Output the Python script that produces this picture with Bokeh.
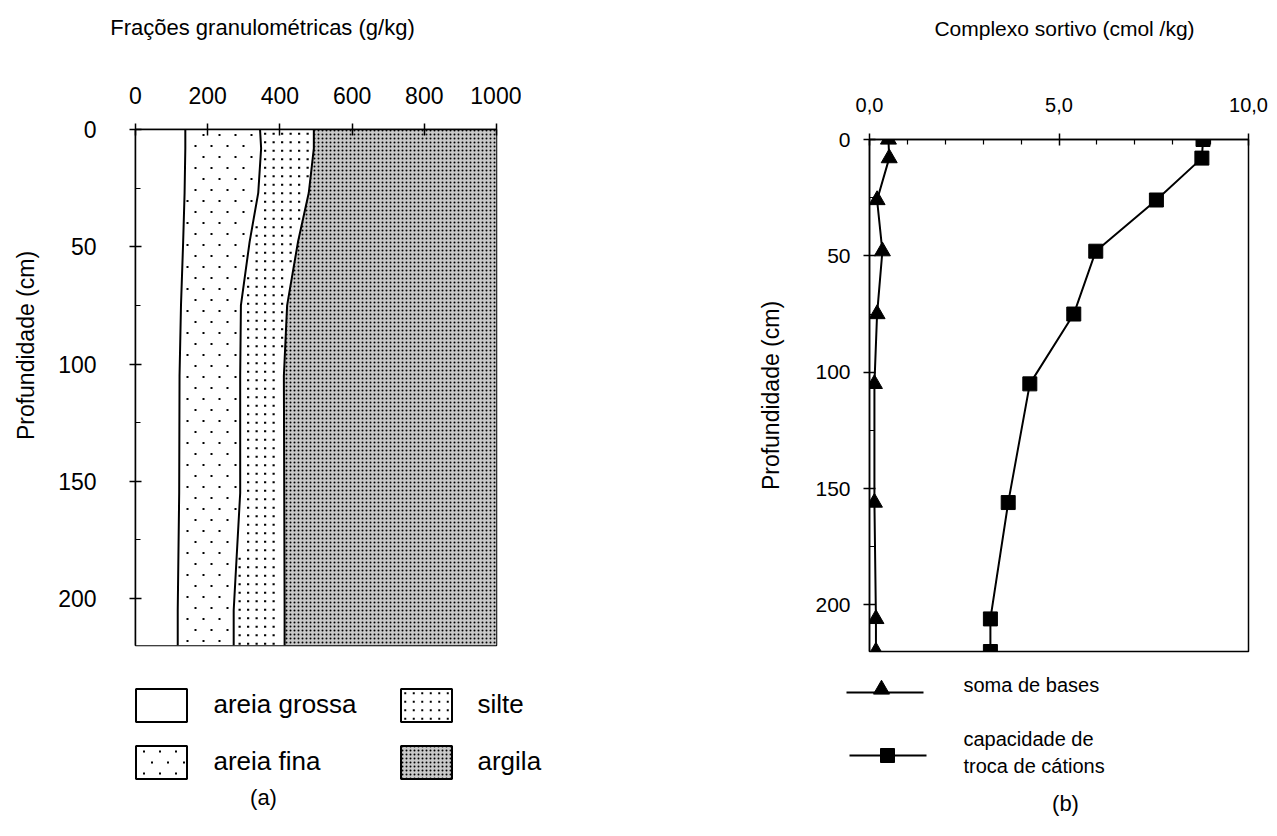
import math
import numpy as np
from bokeh.plotting import figure
from bokeh.models import Range1d, FixedTicker
from bokeh.embed import file_html
from bokeh.resources import INLINE
from bokeh.core.properties import value

FONT = "Liberation Sans"

# ---------------- data (a): particle-size fractions (g/kg) by depth (cm)
depth_a = [0, 8, 27, 48, 75, 105, 155, 205, 220]
areia_grossa = [138, 138, 136, 132, 126, 122, 121, 117, 117]
areia_fina = [207, 210, 204, 184, 166, 168, 169, 155, 155]
silte = [149, 146, 140, 134, 128, 121, 122, 141, 141]
argila = [506, 506, 520, 550, 580, 589, 588, 587, 587]
x_ticks_a = [0, 200, 400, 600, 800, 1000]

# ---------------- data (b): sorptive complex (cmolc/kg) by depth (cm)
depth_b = [0, 8, 26, 48, 75, 105, 156, 206, 220]
soma_bases = [0.5, 0.52, 0.2, 0.34, 0.2, 0.13, 0.13, 0.17, 0.17]
ctc = [8.8, 8.77, 7.57, 5.97, 5.39, 4.23, 3.66, 3.19, 3.19]
x_ticks_b = [0, 5, 10]
x_labels_b = ["0,0", "5,0", "10,0"]
y_ticks = [0, 50, 100, 150, 200]
y_minor = [25, 75, 125, 175]

# cumulative boundaries
b1 = list(areia_grossa)
b2 = [a + b for a, b in zip(b1, areia_fina)]
b3 = [a + b for a, b in zip(b2, silte)]
b4 = [a + b for a, b in zip(b3, argila)]

style_ar = dict(fill_color="#c8c8c8", hatch_pattern="dot", hatch_scale=4,
                hatch_weight=1.2, hatch_color="black")

# frame geometry of panel (a), in pixels
FW, FH = 361, 516
XMAX, YMAX = 1000, 220


def stipple(left, right, dx, dy, stagger):
    """Dot-texture positions (data units) filling the band between two boundaries."""
    xs, ys = [], []
    row = 0
    py = dy / 2
    while py < FH:
        d = py / FH * YMAX
        xl = np.interp(d, depth_a, left) / XMAX * FW
        xr = np.interp(d, depth_a, right) / XMAX * FW
        off = (dx / 2 if (stagger and row % 2) else 0) + dx / 4
        k0 = int(math.floor((xl - off) / dx))
        for k in range(k0, k0 + int(FW / dx) + 3):
            px = off + k * dx
            if xl + 3 < px < xr - 3:
                xs.append(px / FW * XMAX)
                ys.append(d)
        py += dy
        row += 1
    return xs, ys


def style_axes(p, tick_size):
    for ax in (p.xaxis[0], p.yaxis[0]):
        ax.axis_line_color = "black"
        ax.axis_line_width = 1.5
        ax.major_tick_line_color = "black"
        ax.major_tick_line_width = 1.5
        ax.minor_tick_line_color = "black"
        ax.minor_tick_line_width = 1.2
        ax.major_tick_in = 6
        ax.major_tick_out = 6
        ax.minor_tick_in = 5
        ax.minor_tick_out = 0
        ax.major_label_text_font = FONT
        ax.major_label_text_font_size = tick_size
        ax.major_label_text_color = "black"
        ax.axis_label_text_font = FONT
        ax.axis_label_text_font_size = "23px"
        ax.axis_label_text_font_style = "normal"
        ax.axis_label_text_color = "black"
    p.grid.visible = False
    p.outline_line_color = "black"
    p.outline_line_width = 1.5
    p.background_fill_color = "white"
    p.border_fill_alpha = 0


# ======================= background canvas (texts + legend keys)
bg = figure(width=1277, height=836, output_backend="svg", toolbar_location=None,
            x_range=Range1d(0, 1277), y_range=Range1d(836, 0),
            x_axis_type=None, y_axis_type=None, min_border=0,
            outline_line_color=None, background_fill_color="white",
            border_fill_color="white")
bg.styles = {"position": "absolute", "left": "0px", "top": "0px"}


def txt(x, y, s, size="22px", align="center", angle=0.0):
    bg.text(x=[x], y=[y], text=[s], text_font=value(FONT), text_font_size=size,
            text_color="black", text_align=align, text_baseline="middle",
            angle=angle)


def key_box(cx, cy, dx=None, dy=None, stagger=False, **st):
    w, h = 51, 33
    bg.rect(x=[cx], y=[cy], width=w, height=h, line_color="black", line_width=2,
            fill_color=st.pop("fill_color", "white"), **st)
    if dx:
        xs, ys = [], []
        row = 0
        py = cy - h / 2 + dy / 2
        while py < cy + h / 2 - 2:
            off = dx / 2 if (stagger and row % 2) else 0
            px = cx - w / 2 + dx / 2 + off
            while px < cx + w / 2 - 2:
                xs.append(px)
                ys.append(py)
                px += dx
            py += dy
            row += 1
        bg.scatter(x=xs, y=ys, marker="square", size=2, fill_color="black",
                   line_color=None)


txt(262, 27, "Frações granulométricas (g/kg)")
txt(1064, 28, "Complexo sortivo (cmol /kg)", size="21px")
txt(25, 345, "Profundidade (cm)", size="23px", angle=math.pi / 2)

# legend (a)
key_box(161, 705)
key_box(161, 762, dx=16, dy=11, stagger=True)
key_box(426, 705, dx=8.5, dy=8.5)
key_box(426, 762, **dict(style_ar))
txt(213, 703, "areia grossa", size="26px", align="left")
txt(213, 760, "areia fina", size="26px", align="left")
txt(477, 703, "silte", size="26px", align="left")
txt(477, 760, "argila", size="26px", align="left")
txt(263, 797, "(a)")

# legend (b)
bg.line(x=[846, 923], y=[692, 692], line_color="black", line_width=2)
bg.scatter(x=[881], y=[689], marker="triangle", size=16, fill_color="black",
           line_color="black")
bg.line(x=[849, 926], y=[755, 755], line_color="black", line_width=2)
bg.scatter(x=[887], y=[755], marker="square", size=14, fill_color="black",
           line_color="black")
txt(963, 684, "soma de bases", size="20px", align="left")
txt(963, 738, "capacidade de", size="20px", align="left")
txt(963, 765, "troca de cátions", size="20px", align="left")
txt(1065, 803, "(b)")

# ======================= panel (a)
p1 = figure(width=521, height=670, output_backend="svg", toolbar_location=None,
            x_range=Range1d(0, XMAX), y_range=Range1d(YMAX, 0),
            x_axis_location="above",
            min_border_left=135, min_border_top=129,
            min_border_right=25, min_border_bottom=25)
p1.styles = {"position": "absolute", "left": "0px", "top": "0px"}
style_axes(p1, "23px")
p1.xaxis.ticker = FixedTicker(ticks=x_ticks_a, minor_ticks=[])
p1.yaxis.ticker = FixedTicker(ticks=y_ticks, minor_ticks=y_minor)
p1.xaxis.major_label_standoff = 20
p1.yaxis.major_label_standoff = 33

zeros = [0] * len(depth_a)
p1.harea(y=depth_a, x1=zeros, x2=b1, fill_color="white")
p1.harea(y=depth_a, x1=b1, x2=b2, fill_color="white")
p1.harea(y=depth_a, x1=b2, x2=b3, fill_color="white")
p1.harea(y=depth_a, x1=b3, x2=b4, **style_ar)

fx, fy = stipple(b1, b2, 16, 11, True)      # areia fina: sparse staggered dots
sx, sy = stipple(b2, b3, 8.5, 8.5, False)   # silte: regular dot grid
p1.scatter(x=fx, y=fy, marker="square", size=2, fill_color="black", line_color=None)
p1.scatter(x=sx, y=sy, marker="square", size=2.2, fill_color="black", line_color=None)

for b in (b1, b2, b3):
    p1.line(x=b, y=depth_a, line_color="black", line_width=2)

# ======================= panel (b)
p2 = figure(width=633, height=671, output_backend="svg", toolbar_location=None,
            x_range=Range1d(0, 10), y_range=Range1d(220, 0),
            x_axis_location="above",
            min_border_left=229, min_border_top=139,
            min_border_right=25, min_border_bottom=20)
p2.styles = {"position": "absolute", "left": "640px", "top": "0px"}
style_axes(p2, "20px")
p2.xaxis.ticker = FixedTicker(ticks=x_ticks_b, minor_ticks=[1, 2, 3, 4, 6, 7, 8, 9])
p2.xaxis.major_label_overrides = {t: s for t, s in zip(x_ticks_b, x_labels_b)}
p2.yaxis.ticker = FixedTicker(ticks=y_ticks, minor_ticks=y_minor)
p2.yaxis.major_label_text_font_size = "21px"
p2.xaxis.major_label_standoff = 22
p2.yaxis.major_label_standoff = 13
p2.yaxis.axis_label = "Profundidade (cm)"
p2.yaxis.axis_label_standoff = 28

p2.line(x=soma_bases, y=depth_b, line_color="black", line_width=2)
p2.scatter(x=soma_bases, y=depth_b, marker="triangle", size=16,
           fill_color="black", line_color="black")
p2.line(x=ctc, y=depth_b, line_color="black", line_width=2)
p2.scatter(x=ctc, y=depth_b, marker="square", size=14,
           fill_color="black", line_color="black")

open("out.html", "w").write(file_html([bg, p1, p2], INLINE))
